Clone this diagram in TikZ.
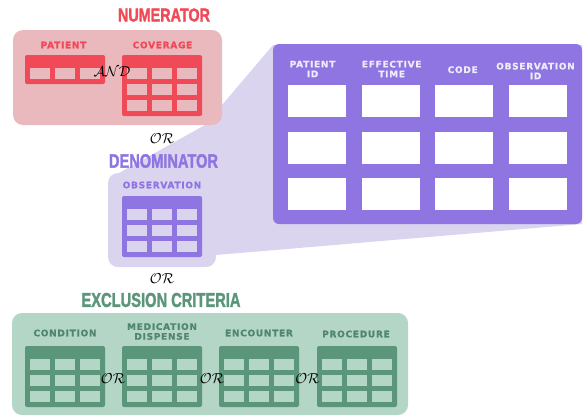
\documentclass[tikz,border=0pt]{standalone}
\usepackage{fontspec}
\setmainfont{DejaVu Sans}
\newfontfamily\labelfont[LetterSpace=8, BoldFeatures={FakeBold=1}]{DejaVu Sans}
\newfontfamily\titlefont[BoldFeatures={FakeBold=2}]{Liberation Sans}

\definecolor{numred}{HTML}{F04A58}
\definecolor{numbg}{HTML}{E9B9BD}
\definecolor{denpurple}{HTML}{8F75E1}
\definecolor{denbg}{HTML}{DAD4EE}
\definecolor{excgreen}{HTML}{5B967A}
\definecolor{exctext}{HTML}{50866D}
\definecolor{excbg}{HTML}{B4D6C6}
\definecolor{headtext}{HTML}{EEEBFA}

% a small table icon: x, y (top left), rows, body colour, cell colour
\newcommand\datatable[5]{%
  \fill[#4, rounded corners=2pt] (#1,#2) rectangle ++(80,{13+16*#3});
  \foreach \r in {1,...,#3}{
    \foreach \c in {0,1,2}{
      \fill[#5] ({#1+5+25*\c},{#2+13+16*(\r-1)}) rectangle ++(20,11);
    }
  }
}
% condensed heading: width, cap height, text
\newcommand\heading[3]{\resizebox{#1}{#2}{\titlefont\bfseries #3}}

\tikzset{
  lbl/.style={font=\labelfont\bfseries\fontsize{9}{9.8}\selectfont, inner sep=0pt, align=center},
  ttl/.style={inner sep=0pt},
  joiner/.style={inner sep=0pt, font=\fontsize{15}{15}\selectfont, text=black},
  group/.style={rounded corners=10pt},
}

\begin{document}
\begin{tikzpicture}[x=1pt,y=-1pt]
\useasboundingbox (0,0) rectangle (585,416);

% zoom wedge from the denominator to the detail panel
\fill[denbg] (273,45) -- (205,125) -- (110,178) -- (110,255) -- (216,255)
  -- (582,224) -- (582,45) -- cycle;

% numerator group
\fill[numbg, group] (13,30) rectangle (222,125);
\node[ttl, text=numred] (numtitle) at (164,15) {\heading{92pt}{13pt}{NUMERATOR}};
\node[lbl, text=numred] (patientlbl) at (63.5,45) {PATIENT};
\node[lbl, text=numred] (coveragelbl) at (162.5,45) {COVERAGE};
\datatable{25}{55}{1}{numred}{numbg}
\datatable{122}{55}{3}{numred}{numbg}
\node[joiner] (and) at (112,72) {$\mathcal{AND}$};

\node[joiner] (or1) at (162,139) {$\mathcal{OR}$};

% denominator group
\node[ttl, text=denpurple] (dentitle) at (163.5,161) {\heading{109pt}{13.5pt}{DENOMINATOR}};
\fill[denbg, group] (108,173) rectangle (216,267);
\node[lbl, text=denpurple] (obslbl) at (162,185) {OBSERVATION};
\datatable{122}{196}{3}{denpurple}{denbg}

% detail panel
\fill[denpurple, rounded corners=6pt] (273,44) rectangle (582,224);
\foreach \x in {288,362,435,509}{
  \foreach \y in {85,132,178}{
    \fill[white] (\x,\y) rectangle ++(58,32);
  }
}
\node[lbl, text=headtext] (colpat) at (312.5,69) {PATIENT\\ID};
\node[lbl, text=headtext] (coleff) at (391.7,69) {EFFECTIVE\\TIME};
\node[lbl, text=headtext] (colcode) at (462.7,69.7) {CODE};
\node[lbl, text=headtext] (colobs) at (535.5,71) {OBSERVATION\\ID};

\node[joiner] (or2) at (162,279) {$\mathcal{OR}$};

% exclusion group
\node[ttl, text=excgreen] (exctitle) at (161,300) {\heading{159pt}{14pt}{EXCLUSION CRITERIA}};
\fill[excbg, group] (12,313) rectangle (408,415);
\node[lbl, text=exctext] (condlbl) at (65,333) {CONDITION};
\node[lbl, text=exctext] (medlbl) at (162,331.5) {MEDICATION\\DISPENSE};
\node[lbl, text=exctext] (enclbl) at (259,333) {ENCOUNTER};
\node[lbl, text=exctext] (proclbl) at (356,334) {PROCEDURE};
\datatable{25}{346}{3}{excgreen}{excbg}
\datatable{122}{346}{3}{excgreen}{excbg}
\datatable{219}{346}{3}{excgreen}{excbg}
\datatable{317}{346}{3}{excgreen}{excbg}
\node[joiner] (or3) at (113,379) {$\mathcal{OR}$};
\node[joiner] (or4) at (212,379) {$\mathcal{OR}$};
\node[joiner] (or5) at (307.5,379) {$\mathcal{OR}$};
\end{tikzpicture}
\end{document}
